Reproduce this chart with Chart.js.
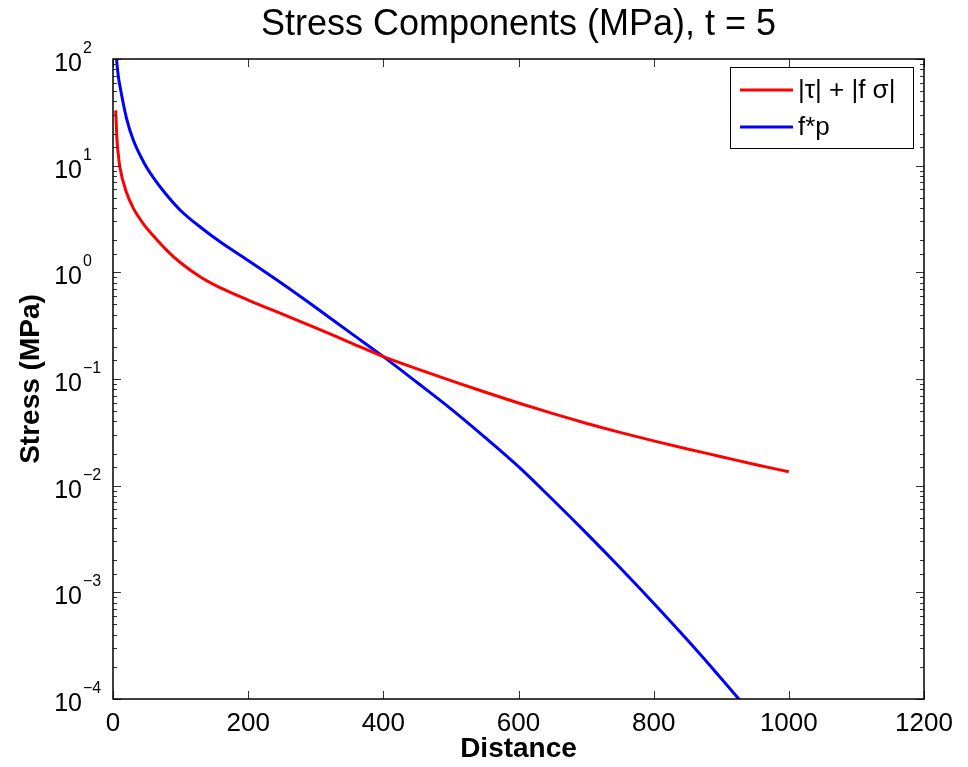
<!DOCTYPE html>
<html>
<head>
<meta charset="utf-8">
<script src="https://cdn.jsdelivr.net/npm/chart.js@4.4.1/dist/chart.umd.min.js"></script>
<style>
  html, body { margin: 0; padding: 0; background: #fff; }
  #wrap { width: 968px; height: 767px; position: relative; }
</style>
</head>
<body>
<div id="wrap"><canvas id="stressChart"></canvas></div>
<script>
// distance along the fault and the two stress terms (MPa)
const distance = [4, 6, 8, 10, 20, 30, 45, 60, 80, 100, 130, 160, 200, 250, 300, 350, 400,
  450, 500, 550, 600, 650, 700, 750, 800, 850, 900, 950, 1000];
const shearPlusNormal = [33, 17, 12.5, 9.8, 5.6, 4.0, 2.85, 2.19, 1.6, 1.23, 0.90, 0.71, 0.55,
  0.407, 0.302, 0.221, 0.162, 0.1245, 0.0966, 0.0755, 0.0596, 0.0476, 0.0385, 0.0316,
  0.0263, 0.0221, 0.0187, 0.0158, 0.0135];
const frictionPressure = [130, 88, 68, 57, 27.8, 17.4, 10.9, 7.67, 5.25, 3.8, 2.63, 1.9, 1.29,
  0.785, 0.468, 0.275, 0.162, 0.0927, 0.0525, 0.0285, 0.01507, 0.00746, 0.00361, 0.00171,
  0.000791, 0.000357, 0.000156, 0.0000658, 0.0000268];

const seriesLabels = ["|\u03c4| + |f \u03c3|", "f*p"];
const xTicks = [0, 200, 400, 600, 800, 1000, 1200];
const yMin = 1e-4, yMax = 1e2;

const FONT = "'Liberation Sans', Helvetica, Arial, sans-serif";

function toPoints(xs, ys) {
  return xs.map((x, i) => ({ x: x, y: ys[i] }));
}

// box, inward ticks, 10^n labels and legend, matlab style
const axesDecor = {
  id: "axesDecor",
  afterDraw(chart) {
    const ctx = chart.ctx;
    const a = chart.chartArea;
    const xs = chart.scales.x;
    const ys = chart.scales.y;
    ctx.save();

    // ticks
    ctx.strokeStyle = "#333";
    ctx.lineWidth = 1;
    ctx.beginPath();
    xTicks.forEach(v => {
      const px = Math.round(xs.getPixelForValue(v)) + 0.5;
      ctx.moveTo(px, a.bottom); ctx.lineTo(px, a.bottom - 8);
      ctx.moveTo(px, a.top); ctx.lineTo(px, a.top + 8);
    });
    ys.ticks.forEach(t => {
      const lg = Math.log10(t.value);
      const major = Math.abs(lg - Math.round(lg)) < 1e-6;
      const len = major ? 8 : 4;
      const py = Math.round(ys.getPixelForValue(t.value)) + 0.5;
      ctx.moveTo(a.left, py); ctx.lineTo(a.left + len, py);
      ctx.moveTo(a.right, py); ctx.lineTo(a.right - len, py);
    });
    ctx.stroke();

    // box
    ctx.strokeStyle = "#000";
    ctx.lineWidth = 1.5;
    ctx.strokeRect(a.left, a.top, a.right - a.left, a.bottom - a.top);

    // y labels: 10 with raised exponent
    ctx.fillStyle = "#000";
    for (let e = Math.log10(yMin); e <= Math.log10(yMax); e++) {
      const py = ys.getPixelForValue(Math.pow(10, e));
      ctx.font = "25px " + FONT;
      ctx.textAlign = "right";
      ctx.textBaseline = "alphabetic";
      ctx.fillText("10", a.left - 31, py + 12);
      ctx.font = "16px " + FONT;
      ctx.textAlign = "left";
      const exp = e < 0 ? "\u2212" + (-e) : String(e);
      ctx.fillText(exp, a.left - 30, py - 6);
    }

    // legend
    const bw = 183, bh = 81;
    const bx = a.right - 11 - bw, by = a.top + 8;
    ctx.fillStyle = "#fff";
    ctx.fillRect(bx, by, bw, bh);
    ctx.strokeStyle = "#000";
    ctx.lineWidth = 1;
    ctx.strokeRect(bx + 0.5, by + 0.5, bw, bh);
    chart.data.datasets.forEach((ds, i) => {
      const ly = by + 23 + i * 37;
      ctx.strokeStyle = ds.borderColor;
      ctx.lineWidth = 3;
      ctx.beginPath();
      ctx.moveTo(bx + 10, ly); ctx.lineTo(bx + 63, ly);
      ctx.stroke();
      ctx.fillStyle = "#000";
      ctx.font = "26px " + FONT;
      ctx.textAlign = "left";
      ctx.textBaseline = "middle";
      ctx.fillText(ds.label, bx + 68, ly + 1);
    });
    ctx.restore();
  }
};

const ctx = document.getElementById("stressChart").getContext("2d");

const chart = new Chart(ctx, {
  type: "line",
  data: {
    datasets: [{
      label: seriesLabels[0],
      data: toPoints(distance, shearPlusNormal),
      borderColor: "#ff0000",
      borderWidth: 3,
      pointRadius: 0,
      cubicInterpolationMode: "monotone",
      fill: false
    }, {
      label: seriesLabels[1],
      data: toPoints(distance, frictionPressure),
      borderColor: "#0000ff",
      borderWidth: 3,
      pointRadius: 0,
      cubicInterpolationMode: "monotone",
      fill: false
    }]
  },
  options: {
    responsive: true,
    maintainAspectRatio: false,
    animation: false,
    layout: { padding: { left: 0, right: 44, top: 0, bottom: 0 } },
    plugins: {
      legend: { display: false },
      tooltip: { enabled: false },
      title: {
        display: true,
        fullSize: false,
        text: "Stress Components (MPa), t = 5",
        color: "#000",
        font: { family: FONT, size: 36, weight: "normal" },
        padding: { top: 3, bottom: 12.8 }
      }
    },
    scales: {
      x: {
        type: "linear",
        min: 0,
        max: 1200,
        grid: { display: false, drawTicks: false },
        border: { display: false },
        afterBuildTicks: s => { s.ticks = xTicks.map(v => ({ value: v })); },
        afterFit: s => { s.height = 68; },
        ticks: {
          color: "#000",
          padding: 9,
          maxRotation: 0,
          font: { family: FONT, size: 26 },
          callback: v => String(v)
        },
        title: {
          display: true,
          text: "Distance",
          color: "#000",
          font: { family: FONT, size: 28, weight: "bold" },
          padding: { top: 0, bottom: 1 }
        }
      },
      y: {
        type: "logarithmic",
        min: yMin,
        max: yMax,
        grid: { display: false, drawTicks: false },
        border: { display: false },
        afterFit: s => { s.width = 113; },
        ticks: { display: false },
        title: {
          display: true,
          text: "Stress (MPa)",
          color: "#000",
          font: { family: FONT, size: 28, weight: "bold" },
          padding: { top: 14, bottom: 0 }
        }
      }
    }
  },
  plugins: [axesDecor]
});
</script>
</body>
</html>
